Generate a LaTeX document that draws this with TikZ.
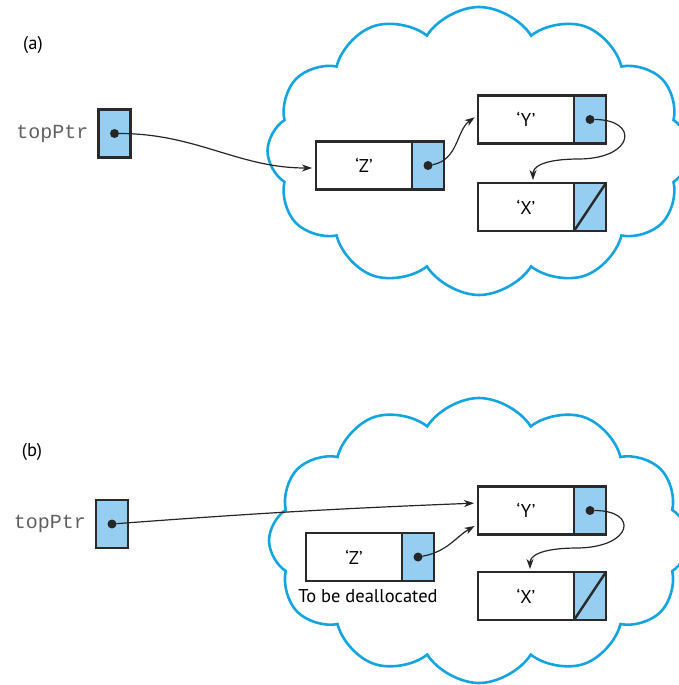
\documentclass[tikz,border=0pt]{standalone}
\usepackage{fontspec}
\setmainfont{PT Sans}
\newfontfamily\codefont{Liberation Mono}
\usetikzlibrary{positioning,shapes.symbols,arrows.meta}
\definecolor{ptrblue}{HTML}{96CEF2}
\definecolor{heapblue}{HTML}{14A5E1}
\definecolor{boxline}{HTML}{2A2A2A}

\begin{document}
\begin{tikzpicture}[x=1pt, y=-1pt,
  every node/.style={font=\fontsize{18.5}{22}\selectfont, inner sep=0pt, outer sep=0pt},
  heap/.style={cloud, cloud puffs=12, cloud puff arc=115, aspect=1.45, draw=heapblue, line width=2.6pt},
  datbox/.style={draw=boxline, line width=2.8pt, fill=white, minimum width=96pt, minimum height=48pt},
  ptrbox/.style={draw=boxline, line width=2.8pt, fill=ptrblue, minimum width=32pt, minimum height=48pt},
  ptrdot/.style={circle, fill=black!85, minimum size=9pt},
  link/.style={-{Stealth[length=10pt,width=7pt,inset=3pt]}, line width=1.2pt, black!85},
  varname/.style={font=\codefont\fontsize{20}{24}\selectfont, text=black!62}]
\useasboundingbox (0,0) rectangle (679,685);

\node (labA) at (33,45) {(a)};
\node[heap, minimum width=423pt, minimum height=288pt] (heapA) at (479,151) {};
\node[ptrbox] (topA) at (114.5,133.5) {};
\node[varname, left=10pt of topA] (nameA) {topPtr};
\node[datbox] (zA) at (364,165.5) {‘Z’};
\node[ptrbox, right=0pt of zA] (zpA) {};
\node[datbox] (yA) at (526,119.5) {‘Y’};
\node[ptrbox, right=0pt of yA] (ypA) {};
\node[datbox] (xA) at (526,207) {‘X’};
\node[ptrbox, right=0pt of xA] (xpA) {};
\draw[boxline, line width=2.4pt] (xpA.south west) -- (xpA.north east);

\node[ptrdot] (dA) at (topA.center) {};
\node[ptrdot] (dzA) at (zpA.center) {};
\node[ptrdot] (dyA) at (ypA.center) {};
\coordinate (bendA) at (580,159);

\draw[link, shorten >=4pt] (dA) to[out=0,in=180] ([yshift=-2.5pt]zA.west);
\draw[link, shorten >=4pt] (dzA) to[out=10,in=-145] ([yshift=4.5pt]yA.west);
\draw[link, shorten >=3pt] (dyA) .. controls +(49,0) and +(55,-1) .. (bendA)
  .. controls +(-40,0) and +(0,-15) .. ([xshift=7pt]xA.north);

\node (labB) at (32,452) {(b)};
\node[heap, minimum width=420pt, minimum height=285pt] (heapB) at (479,540.5) {};
\node[ptrbox] (topB) at (112,524) {};
\node[varname, left=10pt of topB] (nameB) {topPtr};
\node[datbox] (zB) at (354,557) {‘Z’};
\node[ptrbox, right=0pt of zB] (zpB) {};
\node[below=9pt of zB, xshift=14pt] (freeB) {To be deallocated};
\node[datbox] (yB) at (526,510.5) {‘Y’};
\node[ptrbox, right=0pt of yB] (ypB) {};
\node[datbox] (xB) at (526,596) {‘X’};
\node[ptrbox, right=0pt of xB] (xpB) {};
\draw[boxline, line width=2.4pt] (xpB.south west) -- (xpB.north east);

\node[ptrdot] (dB) at (topB.center) {};
\node[ptrdot] (dzB) at (zpB.center) {};
\node[ptrdot] (dyB) at (ypB.center) {};
\coordinate (bendB) at (578,548);

\draw[link, shorten >=4pt] (dB) to[bend left=1] ([yshift=7.5pt]yB.west);
\draw[link, shorten >=4pt] (dzB) to[out=10,in=-150] ([yshift=-13.5pt]yB.west);
\draw[link, shorten >=3pt] (dyB) .. controls +(49,0) and +(55,-1) .. (bendB)
  .. controls +(-40,0) and +(0,-15) .. ([xshift=4pt]xB.north);

\end{tikzpicture}
\end{document}
